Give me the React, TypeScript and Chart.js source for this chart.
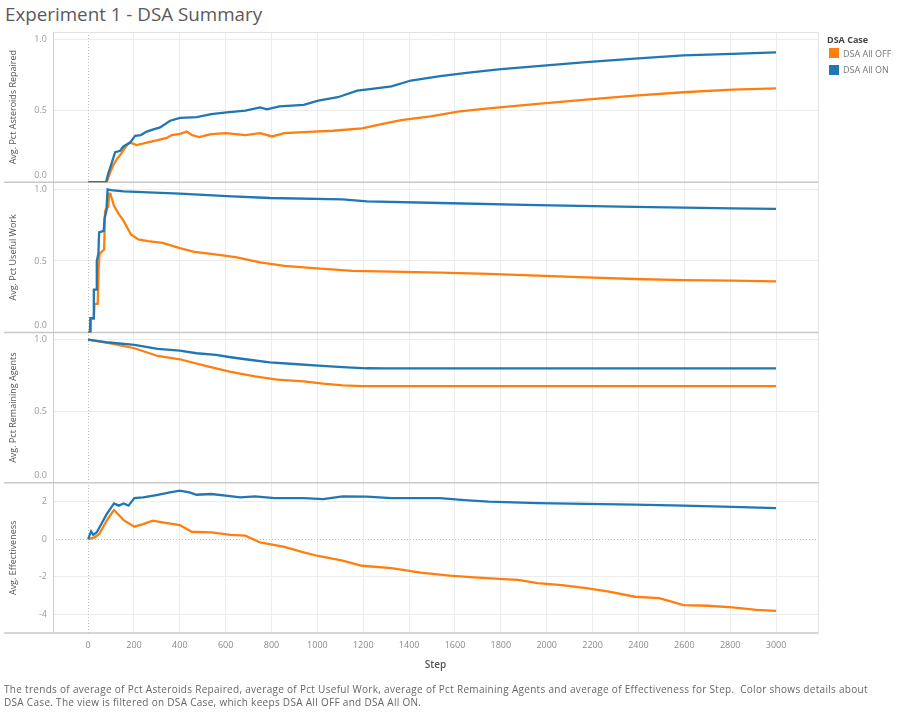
import React, { useEffect, useRef } from 'react';
import { Chart, registerables } from 'chart.js';

Chart.register(...registerables);

// ---------- data ----------
const seriesNames = ['DSA All OFF', 'DSA All ON'];
const seriesColors = ['#ff7f0e', '#1f77b4'];

const xTicks = [0, 200, 400, 600, 800, 1000, 1200, 1400, 1600, 1800, 2000, 2200, 2400, 2600, 2800, 3000];
const pctTicks = [0, 0.5, 1.0];
const effTicks = [-4, -2, 0, 2];

const panelTitles = ['Avg. Pct Asteroids Repaired', 'Avg. Pct Useful Work', 'Avg. Pct Remaining Agents', 'Avg. Effectiveness'];

// Pct Asteroids Repaired
const repairedOffSteps = [0, 81, 96, 110, 125, 140, 169, 183, 212, 256, 300, 343, 365, 401, 430, 452, 484, 537, 600, 686, 750, 802, 856, 962, 1068, 1195, 1280, 1365, 1493, 1620, 1747, 1960, 2172, 2384, 2596, 2809, 3000];
const repairedOffValues = [0, 0, 0.066, 0.12, 0.16, 0.19, 0.26, 0.277, 0.26, 0.277, 0.293, 0.31, 0.33, 0.338, 0.354, 0.33, 0.315, 0.336, 0.343, 0.33, 0.343, 0.32, 0.343, 0.352, 0.36, 0.376, 0.406, 0.434, 0.46, 0.495, 0.516, 0.547, 0.577, 0.606, 0.629, 0.648, 0.656];
const repairedOnSteps = [0, 78, 89, 100, 118, 140, 154, 183, 205, 230, 256, 285, 314, 358, 401, 474, 537, 605, 686, 750, 780, 834, 940, 1004, 1089, 1174, 1238, 1323, 1408, 1535, 1641, 1790, 1960, 2172, 2384, 2596, 2809, 3000];
const repairedOnValues = [0, 0, 0.066, 0.12, 0.21, 0.22, 0.25, 0.277, 0.324, 0.33, 0.354, 0.37, 0.383, 0.43, 0.45, 0.455, 0.476, 0.488, 0.5, 0.523, 0.51, 0.53, 0.54, 0.57, 0.594, 0.64, 0.653, 0.67, 0.711, 0.742, 0.763, 0.789, 0.812, 0.84, 0.864, 0.887, 0.897, 0.907];

// Pct Useful Work
const workOffSteps = [0, 10, 12, 25, 28, 42, 46, 50, 70, 74, 88, 92, 97, 113, 134, 155, 187, 219, 261, 325, 400, 463, 537, 643, 750, 856, 983, 1153, 1323, 1535, 1747, 1960, 2172, 2384, 2596, 2809, 3000];
const workOffValues = [0, 0, 0.095, 0.095, 0.2, 0.2, 0.45, 0.55, 0.58, 0.85, 0.88, 0.97, 0.97, 0.886, 0.827, 0.78, 0.685, 0.65, 0.638, 0.626, 0.59, 0.563, 0.55, 0.527, 0.49, 0.466, 0.45, 0.43, 0.426, 0.418, 0.409, 0.397, 0.385, 0.374, 0.366, 0.362, 0.357];
const workOnSteps = [0, 8, 10, 22, 25, 35, 38, 45, 48, 68, 72, 80, 85, 100, 155, 400, 605, 792, 1110, 1216, 1535, 1960, 2384, 2809, 3000];
const workOnValues = [0, 0, 0.1, 0.1, 0.3, 0.3, 0.5, 0.55, 0.7, 0.71, 0.8, 0.85, 1.0, 0.995, 0.986, 0.97, 0.953, 0.94, 0.93, 0.917, 0.905, 0.89, 0.878, 0.868, 0.864];

// Pct Remaining Agents
const agentsOffSteps = [0, 91, 202, 304, 400, 517, 622, 728, 824, 940, 1025, 1110, 1195, 3000];
const agentsOffValues = [1.0, 0.976, 0.94, 0.886, 0.863, 0.815, 0.775, 0.744, 0.72, 0.709, 0.692, 0.68, 0.675, 0.675];
const agentsOnSteps = [0, 91, 202, 304, 400, 473, 558, 622, 686, 792, 898, 1004, 1110, 1216, 1300, 3000];
const agentsOnValues = [1.0, 0.98, 0.964, 0.936, 0.924, 0.905, 0.893, 0.877, 0.863, 0.841, 0.83, 0.818, 0.808, 0.8, 0.799, 0.799];

// Effectiveness
const effOffSteps = [0, 28, 49, 81, 113, 155, 202, 240, 282, 325, 400, 452, 537, 622, 686, 750, 856, 940, 1004, 1110, 1195, 1323, 1450, 1577, 1683, 1811, 1875, 1960, 2066, 2172, 2278, 2384, 2490, 2533, 2596, 2702, 2809, 2915, 3000];
const effOffValues = [0, 0.09, 0.27, 0.98, 1.55, 1.01, 0.66, 0.8, 0.98, 0.89, 0.75, 0.39, 0.36, 0.23, 0.18, -0.18, -0.41, -0.71, -0.9, -1.15, -1.42, -1.55, -1.78, -1.95, -2.04, -2.13, -2.17, -2.34, -2.45, -2.61, -2.81, -3.07, -3.14, -3.29, -3.52, -3.55, -3.64, -3.77, -3.82];
const effOnSteps = [0, 13, 23, 38, 59, 81, 113, 134, 155, 176, 202, 240, 304, 357, 400, 442, 473, 537, 600, 664, 728, 813, 940, 1025, 1110, 1216, 1323, 1535, 1641, 1747, 1960, 2172, 2384, 2596, 2809, 3000];
const effOnValues = [0, 0.41, 0.23, 0.36, 0.83, 1.33, 1.9, 1.78, 1.9, 1.78, 2.18, 2.22, 2.36, 2.49, 2.58, 2.49, 2.36, 2.4, 2.31, 2.22, 2.27, 2.18, 2.18, 2.13, 2.27, 2.26, 2.18, 2.18, 2.08, 1.99, 1.92, 1.87, 1.83, 1.78, 1.72, 1.65];

const footerText1 = 'The trends of average of Pct Asteroids Repaired, average of Pct Useful Work, average of Pct Remaining Agents and average of Effectiveness for Step.  Color shows details about';
const footerText2 = 'DSA Case. The view is filtered on DSA Case, which keeps DSA All OFF and DSA All ON.';

const FONT = '"Open Sans", "Noto Sans", sans-serif';

function pts(steps: number[], values: number[]) {
  return steps.map((s, i) => ({ x: s, y: values[i] }));
}

export default function App() {
  const canvasRef = useRef<HTMLCanvasElement | null>(null);

  useEffect(() => {
    const canvas = canvasRef.current;
    if (!canvas) return;

    const mk = (label: string, idx: number, axis: string, steps: number[], values: number[]) => ({
      label,
      data: pts(steps, values),
      yAxisID: axis,
      borderColor: seriesColors[idx],
      backgroundColor: seriesColors[idx],
      borderWidth: 2.3,
      pointRadius: 0,
      tension: 0,
      fill: false,
    });

    const datasets = [
      mk(seriesNames[1], 1, 'yRep', repairedOnSteps, repairedOnValues),
      mk(seriesNames[0], 0, 'yRep', repairedOffSteps, repairedOffValues),
      mk(seriesNames[1], 1, 'yWork', workOnSteps, workOnValues),
      mk(seriesNames[0], 0, 'yWork', workOffSteps, workOffValues),
      mk(seriesNames[1], 1, 'yAgents', agentsOnSteps, agentsOnValues),
      mk(seriesNames[0], 0, 'yAgents', agentsOffSteps, agentsOffValues),
      mk(seriesNames[1], 1, 'yEff', effOnSteps, effOnValues),
      mk(seriesNames[0], 0, 'yEff', effOffSteps, effOffValues),
    ];

    const gridColor = (c: any) => (c.tick && c.tick.value === 0 ? 'rgba(0,0,0,0)' : '#ececec');

    const yScale = (weight: number, title: string, min: number, max: number, tickVals: number[], fmt: (v: number) => string) => ({
      type: 'linear',
      position: 'left',
      stack: 'rows',
      stackWeight: 1,
      weight,
      min,
      max,
      afterBuildTicks: (s: any) => {
        s.ticks = tickVals.map((v) => ({ value: v }));
      },
      afterFit: (s: any) => {
        s.width = 53;
      },
      ticks: {
        color: 'rgba(0,0,0,0)',
        font: { family: FONT, size: 9 },
        callback: (v: any) => fmt(Number(v)),
      },
      grid: { color: gridColor, drawTicks: false, lineWidth: 1 },
      border: { display: false },
      title: {
        display: true,
        text: title,
        color: '#555',
        font: { family: FONT, size: 9 },
        padding: { top: 8.5, bottom: 0 },
      },
    });

    const decor = {
      id: 'decor',
      beforeDatasetsDraw(chart: any) {
        const { ctx, chartArea: a, scales } = chart;
        const line = (x1: number, y1: number, x2: number, y2: number) => {
          ctx.beginPath();
          ctx.moveTo(x1, y1);
          ctx.lineTo(x2, y2);
          ctx.stroke();
        };
        ctx.save();
        // zero lines (dotted)
        ctx.strokeStyle = '#bdbdbd';
        ctx.lineWidth = 1;
        ctx.setLineDash([1, 2]);
        const x0 = Math.round(scales.x.getPixelForValue(0)) + 0.5;
        line(x0, a.top, x0, a.bottom);
        const y0 = Math.round(scales.yEff.getPixelForValue(0)) + 0.5;
        line(a.left, y0, a.right, y0);
        ctx.setLineDash([]);
        // outer light border
        ctx.strokeStyle = '#e3e3e3';
        line(a.left, Math.round(a.top) + 0.5, a.right, Math.round(a.top) + 0.5);
        line(Math.round(a.right) + 0.5, a.top, Math.round(a.right) + 0.5, a.bottom);
        // axis line
        ctx.strokeStyle = '#cfcfcf';
        line(Math.round(a.left) + 0.5, a.top, Math.round(a.left) + 0.5, a.bottom);
        // row separators
        ctx.strokeStyle = '#c8c8c8';
        ctx.lineWidth = 1.6;
        ['yRep', 'yWork', 'yAgents', 'yEff'].forEach((id) => {
          const s = scales[id];
          line(4, s.bottom, a.right + 0.5, s.bottom);
        });
        ctx.restore();
      },
      afterDraw(chart: any) {
        const { ctx, scales } = chart;
        ctx.save();
        ctx.fillStyle = '#9a9a9a';
        ctx.font = `9px ${FONT}`;
        ctx.textAlign = 'right';
        ctx.textBaseline = 'middle';
        ['yRep', 'yWork', 'yAgents', 'yEff'].forEach((id) => {
          const s = scales[id];
          s.ticks.forEach((t: any) => {
            let y = s.getPixelForValue(t.value);
            y = Math.min(y, s.bottom - 7);
            y = Math.max(y, s.top + 6);
            ctx.fillText(t.label, 47, y);
          });
        });
        ctx.restore();
      },
    };

    const chart = new Chart(canvas, {
      type: 'line',
      data: { datasets } as any,
      options: {
        animation: false,
        responsive: false,
        layout: { padding: { top: 32, right: 86, bottom: 33, left: 0 } },
        plugins: {
          legend: { display: false },
          tooltip: { enabled: false },
          title: { display: false },
        },
        scales: {
          x: {
            type: 'linear',
            min: -153,
            max: 3183,
            afterBuildTicks: (s: any) => {
              s.ticks = xTicks.map((v) => ({ value: v }));
            },
            afterFit: (s: any) => {
              s.height = 47;
            },
            ticks: {
              color: '#8a8a8a',
              font: { family: FONT, size: 9 },
              padding: 7,
              maxRotation: 0,
              autoSkip: false,
              callback: (v: any) => String(v),
            },
            grid: { color: gridColor, drawTicks: false, lineWidth: 1 },
            border: { display: false },
            title: {
              display: true,
              text: 'Step',
              color: '#555',
              font: { family: FONT, size: 10, weight: '600' },
              padding: { top: 0, bottom: 9 },
            },
          },
          yEff: yScale(1, panelTitles[3], -5, 3, effTicks, (v) => String(v)),
          yAgents: yScale(2, panelTitles[2], 0, 1.05, pctTicks, (v) => v.toFixed(1)),
          yWork: yScale(3, panelTitles[1], 0, 1.05, pctTicks, (v) => v.toFixed(1)),
          yRep: yScale(4, panelTitles[0], 0, 1.05, pctTicks, (v) => v.toFixed(1)),
        } as any,
      },
      plugins: [decor],
    } as any);

    return () => chart.destroy();
  }, []);

  return (
    <div style={{ position: 'fixed', left: 0, top: 0, width: 904, height: 713, background: '#fff', fontFamily: FONT, overflow: 'hidden' }}>
      <div style={{ position: 'absolute', left: 5, top: 1, fontSize: 18.8, color: '#5a5a5a', whiteSpace: 'nowrap' }}>
        Experiment 1 - DSA Summary
      </div>
      <canvas ref={canvasRef} width={904} height={713} style={{ position: 'absolute', left: 0, top: 0 }} />
      <div style={{ position: 'absolute', left: 827, top: 33, fontSize: 9, fontWeight: 700, color: '#444', whiteSpace: 'nowrap' }}>DSA Case</div>
      {seriesNames.map((n, i) => (
        <div key={n} style={{ position: 'absolute', left: 829, top: 48 + i * 16.5, height: 10, display: 'flex', alignItems: 'center', whiteSpace: 'nowrap' }}>
          <div style={{ width: 10, height: 10, background: seriesColors[i] }} />
          <div style={{ marginLeft: 4, fontSize: 9, color: '#777' }}>{n}</div>
        </div>
      ))}
      <div style={{ position: 'absolute', left: 4, top: 683, fontSize: 10, letterSpacing: 0.3, color: '#666', whiteSpace: 'pre', lineHeight: '13px' }}>
        {footerText1}
        {'\n'}
        {footerText2}
      </div>
    </div>
  );
}
